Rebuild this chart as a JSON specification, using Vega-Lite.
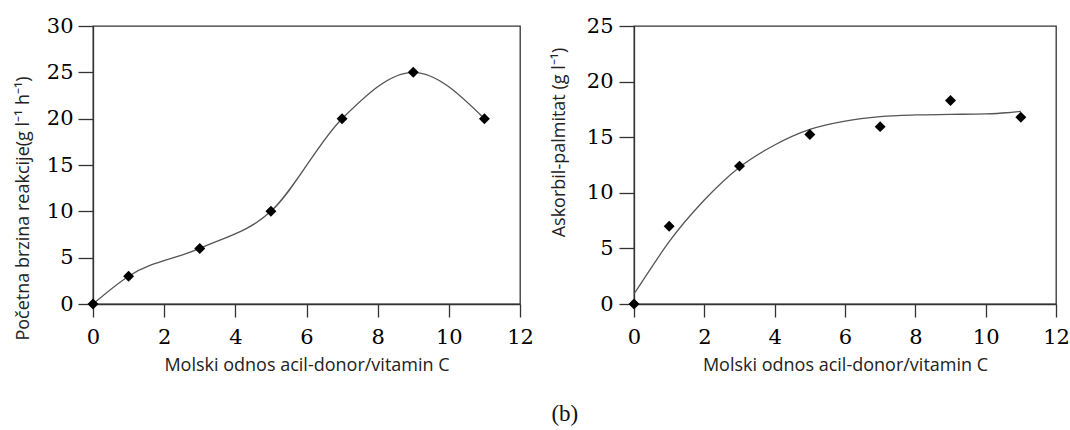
{
  "$schema": "https://vega.github.io/schema/vega-lite/v6.json",
  "background": "white",
  "padding": {"left": 13, "top": 14, "right": 2, "bottom": 5},
  "title": {"text": "(b)", "orient": "bottom", "anchor": "middle", "frame": "bounds", "font": "Liberation Serif", "fontSize": 23, "fontWeight": "normal", "color": "#111", "offset": 28, "dx": 23},
  "spacing": 114,
  "bounds": "flush",
  "config": {
    "view": {"stroke": "#333", "strokeWidth": 1.3},
    "axis": {"domainColor": "#333", "domainWidth": 1.3, "tickColor": "#333", "tickWidth": 1.3, "grid": false, "labelFont": "DejaVu Serif", "labelFontSize": 21, "labelColor": "#000", "labelFlush": false, "labelOverlap": false, "titleFont": "Open Sans", "titleFontSize": 18, "titleFontWeight": "normal", "titleColor": "#222"}
  },
  "datasets": {
    "rate": [
      {"x": 0, "y": 0}, {"x": 1, "y": 3}, {"x": 3, "y": 6}, {"x": 5, "y": 10},
      {"x": 7, "y": 20}, {"x": 9, "y": 25}, {"x": 11, "y": 20}
    ],
    "ap": [
      {"x": 0, "y": 0}, {"x": 1, "y": 7.0}, {"x": 3, "y": 12.4}, {"x": 5, "y": 15.25},
      {"x": 7, "y": 15.95}, {"x": 9, "y": 18.3}, {"x": 11, "y": 16.8}
    ],
    "apfit": [
      {"x": 0, "y": 0.9}, {"x": 0.5, "y": 3.3}, {"x": 1, "y": 5.6}, {"x": 2, "y": 9.35},
      {"x": 3, "y": 12.3}, {"x": 4, "y": 14.3}, {"x": 5, "y": 15.7}, {"x": 6, "y": 16.45},
      {"x": 7, "y": 16.85}, {"x": 8, "y": 17.0}, {"x": 9, "y": 17.05}, {"x": 10, "y": 17.1},
      {"x": 10.6, "y": 17.2}, {"x": 11, "y": 17.33}
    ]
  },
  "hconcat": [
    {
      "width": 427,
      "height": 278,
      "layer": [
        {
          "data": {"name": "rate"},
          "mark": {"type": "line", "interpolate": "monotone", "color": "#555", "strokeWidth": 1.3},
          "encoding": {
            "x": {"field": "x", "type": "quantitative", "scale": {"domain": [0, 12], "nice": false, "zero": false},
              "axis": {"values": [0, 2, 4, 6, 8, 10, 12], "title": "Molski odnos acil-donor/vitamin C", "tickSize": 13, "labelPadding": 9, "titlePadding": 9}},
            "y": {"field": "y", "type": "quantitative", "scale": {"domain": [0, 30], "nice": false},
              "axis": {"values": [0, 5, 10, 15, 20, 25, 30], "title": "Početna brzina reakcije(g l⁻¹ h⁻¹)", "tickSize": 15, "labelPadding": 5, "titlePadding": 14, "titleY": 182}}
          }
        },
        {
          "data": {"name": "rate"},
          "mark": {"type": "point", "shape": "diamond", "filled": true, "color": "#000", "size": 120, "opacity": 1},
          "encoding": {
            "x": {"field": "x", "type": "quantitative"},
            "y": {"field": "y", "type": "quantitative"}
          }
        }
      ]
    },
    {
      "width": 422,
      "height": 278,
      "layer": [
        {
          "data": {"name": "apfit"},
          "mark": {"type": "line", "interpolate": "monotone", "color": "#555", "strokeWidth": 1.3},
          "encoding": {
            "x": {"field": "x", "type": "quantitative", "scale": {"domain": [0, 12], "nice": false, "zero": false},
              "axis": {"values": [0, 2, 4, 6, 8, 10, 12], "title": "Molski odnos acil-donor/vitamin C", "tickSize": 13, "labelPadding": 9, "titlePadding": 9}},
            "y": {"field": "y", "type": "quantitative", "scale": {"domain": [0, 25], "nice": false},
              "axis": {"values": [0, 5, 10, 15, 20, 25], "title": "Askorbil-palmitat  (g l⁻¹)", "tickSize": 15, "labelPadding": 6, "titlePadding": 18, "titleY": 116}}
          }
        },
        {
          "data": {"name": "ap"},
          "mark": {"type": "point", "shape": "diamond", "filled": true, "color": "#000", "size": 120, "opacity": 1},
          "encoding": {
            "x": {"field": "x", "type": "quantitative"},
            "y": {"field": "y", "type": "quantitative"}
          }
        }
      ]
    }
  ]
}
